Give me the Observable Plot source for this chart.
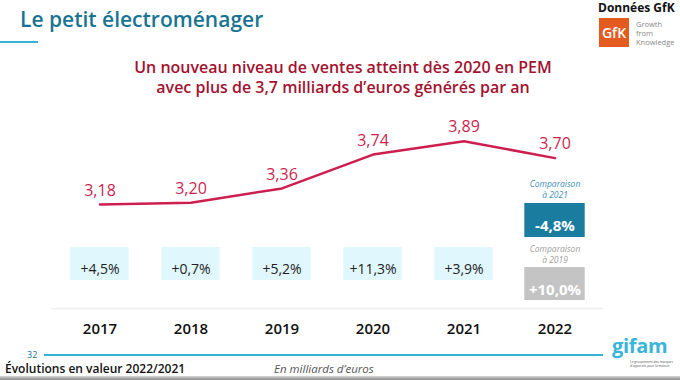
<!DOCTYPE html>
<html><head><meta charset="utf-8">
<script src="https://cdn.jsdelivr.net/npm/d3@7"></script>
<script src="https://cdn.jsdelivr.net/npm/@observablehq/plot@0.6"></script>
<style>
html,body{margin:0;padding:0;background:#fff;}
#slide{position:relative;width:680px;height:380px;overflow:hidden;font-family:"Open Sans",sans-serif;}
#slide svg{position:absolute;left:0;top:0;}
.ab{position:absolute;white-space:nowrap;line-height:1;}
</style></head>
<body>
<div id="slide">
  <div class="ab" style="left:20px;top:9px;font-size:21px;font-weight:600;color:#1b7393;">Le petit électroménager</div>
  <div class="ab" style="left:0;top:41px;width:38px;height:2px;background:#35b3d6;"></div>
  <div class="ab" style="left:0;top:57px;width:686px;text-align:center;font-size:16px;line-height:20px;font-weight:600;color:#a3122f;">Un nouveau niveau de ventes atteint dès 2020 en PEM<br>avec plus de 3,7 milliards d’euros générés par an</div>
  <div class="ab" style="left:598px;top:2px;font-size:12px;font-weight:700;color:#111;">Données GfK</div>
  <div class="ab" style="left:599px;top:18px;width:30px;height:29px;background:#e35b1f;color:#fff;font-size:14px;font-weight:600;text-align:center;line-height:29px;">GfK</div>
  <div class="ab" style="left:636px;top:20px;font-size:7.5px;line-height:9px;color:#888;white-space:normal;width:44px;">Growth<br>from<br>Knowledge</div>
  <div class="ab" style="left:27px;top:350px;font-size:9px;color:#1b7393;">32</div>
  <div class="ab" style="left:44px;top:354px;width:559px;height:1.5px;background:#35b3d6;"></div>
  <div class="ab" style="left:612px;top:336px;font-size:20px;font-weight:700;color:#3ab4d8;letter-spacing:-0.3px;">gifam</div>
  <div class="ab" style="left:630px;top:361px;font-size:3.2px;line-height:3.6px;color:#555;">Le groupement des marques<br>d'appareils pour la maison</div>
  <div class="ab" style="left:5px;top:363px;font-size:12px;font-weight:600;color:#111;">Évolutions en valeur 2022/2021</div>
  <div class="ab" style="left:274px;top:363px;font-size:11.5px;font-style:italic;color:#555;">En milliards d’euros</div>
  <div class="ab" style="left:0;top:376px;width:680px;height:4px;background:linear-gradient(#d8d8d8,#8a8a8a);"></div>
</div>
<script>
const years = ["2017", "2018", "2019", "2020", "2021", "2022"];
const values = [3.18, 3.20, 3.36, 3.74, 3.89, 3.70];
const valueLabels = ["3,18", "3,20", "3,36", "3,74", "3,89", "3,70"];
const growthYears = ["2017", "2018", "2019", "2020", "2021"];
const growthLabels = ["+4,5%", "+0,7%", "+5,2%", "+11,3%", "+3,9%"];
const compYear = ["2022"];
const comp2021Label = ["Comparaison\nà 2021"];
const comp2021Value = ["-4,8%"];
const comp2019Label = ["Comparaison\nà 2019"];
const comp2019Value = ["+10,0%"];

const data = years.map((y, i) => ({year: y, value: values[i], label: valueLabels[i]}));
const growth = growthYears.map((y, i) => ({year: y, label: growthLabels[i]}));

const red = "#cc1f4f";
const chart = Plot.plot({
  width: 680,
  height: 380,
  marginLeft: 51.5,
  marginRight: 78.5,
  marginTop: 0,
  marginBottom: 60,
  style: {fontFamily: "Open Sans", background: "transparent", overflow: "visible"},
  x: {type: "band", domain: years, padding: 0, axis: null},
  y: {domain: [3.18, 3.89], range: [204, 140.7], axis: null},
  marks: [
    Plot.frame({anchor: "bottom", stroke: "#efefef", strokeWidth: 1.5, dy: -12}),
    Plot.cell(growth, {x: "year", fill: "#e0f7fd", insetTop: 247, insetBottom: 40, insetLeft: 16.3, insetRight: 16.3}),
    Plot.text(growth, {x: "year", text: "label", frameAnchor: "top", dy: 264, fontSize: 14, fill: "#222"}),
    Plot.cell(compYear, {x: d => d, fill: "#1a7da0", insetTop: 203, insetBottom: 83, insetLeft: 15.3, insetRight: 15.3}),
    Plot.text(compYear, {x: d => d, text: (d, i) => comp2021Value[i], frameAnchor: "top", dy: 220, fontSize: 15, fontWeight: "bold", fill: "#fff"}),
    Plot.text(compYear, {x: d => d, text: (d, i) => comp2021Label[i], frameAnchor: "top", lineAnchor: "top", dy: 179, fontSize: 8.5, fontStyle: "italic", lineHeight: 1.3, fill: "#3f8fb8"}),
    Plot.cell(compYear, {x: d => d, fill: "#c4c4c4", insetTop: 267, insetBottom: 20, insetLeft: 15.3, insetRight: 15.3}),
    Plot.text(compYear, {x: d => d, text: (d, i) => comp2019Value[i], frameAnchor: "top", dy: 284, fontSize: 15, fontWeight: "bold", fill: "#fff"}),
    Plot.text(compYear, {x: d => d, text: (d, i) => comp2019Label[i], frameAnchor: "top", lineAnchor: "top", dy: 243.5, fontSize: 8.5, fontStyle: "italic", lineHeight: 1.3, fill: "#a0a0a0"}),
    Plot.line(data, {x: "year", y: "value", stroke: red, strokeWidth: 2.5}),
    Plot.text(data, {x: "year", y: "value", text: "label", dy: -14, fontSize: 16, fill: red}),
    Plot.axisX({tickSize: 0, tickPadding: 3, fontSize: 15, fontWeight: 600, fill: "#111", label: null})
  ]
});
document.getElementById("slide").prepend(chart);
</script>
</body></html>
